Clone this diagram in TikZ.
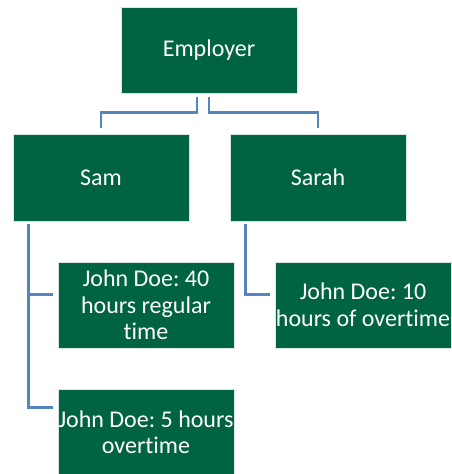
\documentclass[tikz,border=0pt]{standalone}
\usepackage{fontspec}
\setmainfont[Ligatures={NoCommon}]{Carlito}
\frenchspacing
\definecolor{boxgreen}{RGB}{0,99,65}
\definecolor{connblue}{RGB}{84,133,190}
\begin{document}
\begin{tikzpicture}[x=1pt,y=-1pt,
  orgbox/.style={rectangle,fill=boxgreen,draw=white!85!boxgreen,line width=0.6pt,
    minimum width=176pt,minimum height=86pt,inner sep=0pt,align=center,
    text=white,font=\fontsize{24}{26.5}\selectfont},
  conn/.style={draw=connblue,line width=2.8pt}]
\useasboundingbox (0,0) rectangle (451,474);
\node[orgbox] (emp) at (209,50) {Employer};
\node[orgbox,minimum height=87pt] (sam) at (101,177.5) {Sam};
\node[orgbox,minimum height=87pt] (sarah) at (318,177.5) {Sarah};
\node[orgbox] (j40) at (146,305) {John Doe: 40\\hours regular\\time};
\node[orgbox] (j10) at (363,305) {John Doe: 10\\hours of overtime};
\node[orgbox] (j5) at (146,432) {John Doe: 5 hours\\overtime};
\coordinate (e1) at ([xshift=-12pt,yshift=-4pt]emp.south);
\coordinate (e2) at ([xshift=0pt,yshift=-4pt]emp.south);
\coordinate (s1) at ([yshift=6pt]sam.north);
\coordinate (s2) at ([yshift=6pt]sarah.north);
\draw[conn] (e1) -- ++(0,15) -| (s1);
\draw[conn] (e2) -- ++(0,15) -| (s2);
\coordinate (sa) at ([xshift=16pt,yshift=-3pt]sam.south west);
\coordinate (t40) at ([xshift=-5pt,yshift=-33pt]j40.north west);
\coordinate (t5) at ([xshift=-5pt,yshift=-18.5pt]j5.north west);
\draw[conn] (sa) |- (t5);
\draw[conn] (sa |- t40) -- (t40);
\coordinate (sb) at ([xshift=16pt,yshift=-3pt]sarah.south west);
\coordinate (t10) at ([xshift=-5pt,yshift=-33pt]j10.north west);
\draw[conn] (sb) |- (t10);
\end{tikzpicture}
\end{document}
